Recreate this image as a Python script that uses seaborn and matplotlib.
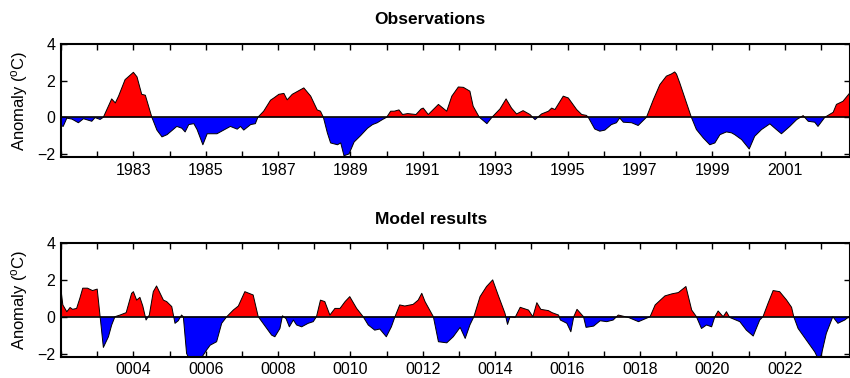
import numpy as np
import pandas as pd
import matplotlib
matplotlib.use("Agg")
import matplotlib.pyplot as plt
import seaborn as sns

# ---- data (time in years, anomaly in degC) ----
obs_time = [1981.00, 1981.06, 1981.16, 1981.30, 1981.48, 1981.62, 1981.85, 1981.94,
            1982.08, 1982.17, 1982.40, 1982.50, 1982.59, 1982.77, 1983.00, 1983.10,
            1983.23, 1983.33, 1983.51, 1983.65, 1983.79, 1983.93, 1984.20, 1984.34,
            1984.43, 1984.53, 1984.67, 1984.76, 1984.92, 1985.04, 1985.31, 1985.59,
            1985.68, 1985.87, 1985.96, 1986.05, 1986.24, 1986.37, 1986.44, 1986.60,
            1986.79, 1986.88, 1987.02, 1987.16, 1987.25, 1987.39, 1987.57, 1987.71,
            1987.90, 1988.08, 1988.17, 1988.25, 1988.36, 1988.45, 1988.64, 1988.73,
            1988.82, 1988.96, 1989.10, 1989.28, 1989.47, 1989.61, 1989.74, 1989.88,
            1990.00, 1990.11, 1990.21, 1990.34, 1990.44, 1990.58, 1990.81, 1990.95,
            1991.01, 1991.15, 1991.43, 1991.66, 1991.80, 1991.98, 1992.12, 1992.30,
            1992.39, 1992.56, 1992.77, 1992.91, 1993.13, 1993.30, 1993.45, 1993.59,
            1993.77, 1993.96, 1994.10, 1994.28, 1994.47, 1994.56, 1994.65, 1994.88,
            1995.02, 1995.25, 1995.39, 1995.52, 1995.57, 1995.75, 1995.89, 1996.03,
            1996.21, 1996.35, 1996.44, 1996.54, 1996.77, 1996.95, 1997.18, 1997.37,
            1997.55, 1997.73, 1997.87, 1997.96, 1998.01, 1998.10, 1998.24, 1998.42,
            1998.56, 1998.75, 1998.93, 1999.07, 1999.21, 1999.39, 1999.53, 1999.62,
            1999.81, 2000.02, 2000.17, 2000.36, 2000.59, 2000.77, 2000.91, 2001.14,
            2001.33, 2001.51, 2001.65, 2001.83, 2001.92, 2002.11, 2002.34, 2002.43,
            2002.61, 2002.80]
obs_anom = [-0.45, -0.50, -0.05, -0.10, -0.30, -0.08, -0.22, -0.02,
            -0.12, 0.00, 1.00, 0.78, 1.15, 2.05, 2.45, 2.20,
            1.25, 1.20, 0.00, -0.70, -1.07, -0.95, -0.50, -0.60,
            -0.80, -0.40, -0.35, -0.67, -1.50, -0.90, -0.90, -0.60,
            -0.50, -0.65, -0.50, -0.70, -0.40, -0.35, 0.00, 0.33,
            0.93, 1.05, 1.25, 1.30, 0.95, 1.25, 1.45, 1.60,
            1.15, 0.40, 0.33, 0.00, -0.85, -1.40, -1.50, -1.40,
            -2.10, -2.00, -1.35, -1.00, -0.60, -0.40, -0.30, -0.13,
            0.00, 0.33, 0.33, 0.40, 0.15, 0.20, 0.15, 0.45,
            0.50, 0.15, 0.70, 0.33, 1.15, 1.65, 1.63, 1.42,
            0.60, 0.00, -0.35, 0.00, 0.45, 1.00, 0.50, 0.18,
            0.36, 0.15, -0.13, 0.18, 0.33, 0.50, 0.42, 1.15,
            1.05, 0.42, 0.15, 0.10, 0.00, -0.64, -0.76, -0.70,
            -0.40, -0.30, -0.04, -0.27, -0.30, -0.45, 0.00, 0.96,
            1.78, 2.24, 2.36, 2.47, 2.35, 1.87, 1.05, 0.00,
            -0.67, -1.13, -1.50, -1.40, -0.95, -0.80, -0.85, -0.95,
            -1.22, -1.73, -1.04, -0.67, -0.36, -0.67, -0.90, -0.50,
            -0.13, 0.09, -0.22, -0.27, -0.50, 0.00, 0.27, 0.70,
            0.87, 1.33]

model_time = [2.00, 2.05, 2.16, 2.25, 2.32, 2.43, 2.52, 2.60, 2.73, 2.87,
              3.00, 3.08, 3.17, 3.31, 3.40, 3.49, 3.63, 3.80, 3.95, 4.00,
              4.09, 4.18, 4.26, 4.35, 4.44, 4.55, 4.64, 4.83, 4.92, 5.06,
              5.15, 5.24, 5.33, 5.38, 5.47, 5.56, 5.84, 6.02, 6.12, 6.30,
              6.44, 6.58, 6.76, 6.90, 7.08, 7.31, 7.45, 7.64, 7.82, 7.91,
              8.05, 8.12, 8.22, 8.31, 8.42, 8.51, 8.65, 8.83, 8.97, 9.06,
              9.17, 9.29, 9.43, 9.57, 9.71, 9.85, 9.98, 10.17, 10.35, 10.49,
              10.67, 10.81, 10.99, 11.13, 11.23, 11.36, 11.50, 11.73, 11.87, 11.97,
              12.06, 12.29, 12.43, 12.66, 12.84, 13.03, 13.17, 13.30, 13.41, 13.58,
              13.76, 13.93, 14.08, 14.27, 14.34, 14.41, 14.55, 14.69, 14.92, 15.04,
              15.15, 15.26, 15.47, 15.57, 15.75, 15.80, 15.98, 16.09, 16.17, 16.26,
              16.44, 16.51, 16.72, 16.90, 17.08, 17.26, 17.40, 17.68, 17.96, 18.28,
              18.42, 18.69, 18.88, 19.06, 19.27, 19.43, 19.56, 19.70, 19.84, 19.98,
              20.07, 20.16, 20.30, 20.39, 20.48, 20.76, 20.94, 21.13, 21.31, 21.40,
              21.54, 21.68, 21.86, 22.05, 22.19, 22.25, 22.37, 22.60, 22.83, 22.92,
              23.01, 23.15, 23.33, 23.47, 23.66, 23.80]
model_anom = [1.45, 0.64, 0.27, 0.50, 0.40, 0.45, 1.00, 1.55, 1.55, 1.42,
              1.50, 0.00, -1.67, -1.09, -0.45, 0.00, 0.09, 0.22, 1.27, 1.36,
              0.90, 1.05, 0.58, -0.18, 0.09, 1.36, 1.67, 0.90, 0.82, 0.55,
              -0.36, -0.22, 0.09, 0.00, -2.00, -2.36, -2.36, -1.82, -1.55, -1.36,
              -0.36, 0.00, 0.36, 0.58, 1.36, 1.18, 0.00, -0.51, -1.00, -1.09,
              -0.64, 0.05, -0.11, -0.55, -0.18, -0.45, -0.55, -0.36, -0.27, 0.00,
              0.90, 0.82, 0.09, 0.45, 0.45, 0.82, 1.09, 0.45, 0.00, -0.45,
              -0.73, -0.67, -1.09, -0.55, 0.00, 0.64, 0.58, 0.67, 0.90, 1.27,
              0.82, 0.00, -1.36, -1.42, -1.09, -0.58, -1.18, -0.45, 0.00, 1.09,
              1.64, 2.00, 1.18, 0.18, -0.42, 0.00, -0.04, 0.51, 0.36, 0.00,
              0.76, 0.40, 0.33, 0.22, 0.09, -0.18, -0.36, -0.82, 0.00, 0.40,
              0.00, -0.58, -0.51, -0.22, -0.27, -0.18, 0.09, -0.04, -0.27, 0.00,
              0.64, 1.13, 1.24, 1.31, 1.64, 0.36, 0.00, -0.64, -0.45, -0.55,
              0.00, 0.31, 0.00, 0.27, -0.04, -0.27, -0.73, -1.05, -0.18, 0.00,
              0.73, 1.42, 1.36, 0.91, 0.51, 0.00, -0.64, -1.27, -1.91, -2.27,
              -2.10, -0.91, 0.00, -0.36, -0.18, 0.04]

# year ticks (every year) and the years that get a label
obs_years = list(range(1981, 2003))
obs_labelled = list(range(1983, 2003, 2))
model_years = list(range(2, 24))
model_labelled = list(range(4, 24, 2))

sns.set_style("ticks")
plt.rcParams["font.family"] = ["Liberation Sans", "DejaVu Sans"]
plt.rcParams["mathtext.fontset"] = "custom"
plt.rcParams["mathtext.rm"] = "Liberation Sans"
plt.rcParams["mathtext.it"] = "Liberation Sans"
for key in ["text.color", "axes.labelcolor", "xtick.color", "ytick.color",
            "axes.edgecolor"]:
    plt.rcParams[key] = "black"

fig = plt.figure(figsize=(8.5, 3.78), dpi=100)
ax_obs = fig.add_axes([0.0718, 0.584, 0.928, 0.300])
ax_mod = fig.add_axes([0.0718, 0.056, 0.928, 0.301])


def draw_panel(ax, t, v, years, labelled, fmt, x0, x1):
    df = pd.DataFrame({"t": t, "v": v})
    vv = df["v"].to_numpy()
    ax.fill_between(df["t"], vv, 0, where=vv >= 0, interpolate=True,
                    color="#ff0000", linewidth=0)
    ax.fill_between(df["t"], vv, 0, where=vv <= 0, interpolate=True,
                    color="#0000ff", linewidth=0)
    sns.lineplot(data=df, x="t", y="v", ax=ax, color="black", linewidth=0.7,
                 sort=False)
    ax.axhline(0, color="black", linewidth=1.2)
    ax.set_xlim(x0, x1)
    ax.set_ylim(-2.18, 4)
    ax.set_yticks([-2, 0, 2, 4])
    ax.set_xticks(years)
    ax.set_xticklabels([fmt(y) if y in labelled else "" for y in years])
    ax.set_xlabel("")
    ax.set_ylabel("Anomaly ($^o$C)", fontsize=12, labelpad=5)
    ax.tick_params(direction="in", length=4, width=1, top=True, right=True,
                   labelsize=11.5, pad=4)
    for s in ax.spines.values():
        s.set_visible(True)
        s.set_linewidth(1.5)


draw_panel(ax_obs, obs_time, obs_anom, obs_years, obs_labelled,
           lambda y: str(y), 1981, 2002.8)
draw_panel(ax_mod, model_time, model_anom, model_years, model_labelled,
           lambda y: f"{y:04d}", 2, 23.8)

fig.text(430 / 850, 1 - 20 / 378, "Observations", ha="center", va="center",
         fontsize=12.5, fontweight="bold")
fig.text(431 / 850, 1 - 220 / 378, "Model results", ha="center", va="center",
         fontsize=12.5, fontweight="bold")

fig.savefig("out.png", dpi=100)
